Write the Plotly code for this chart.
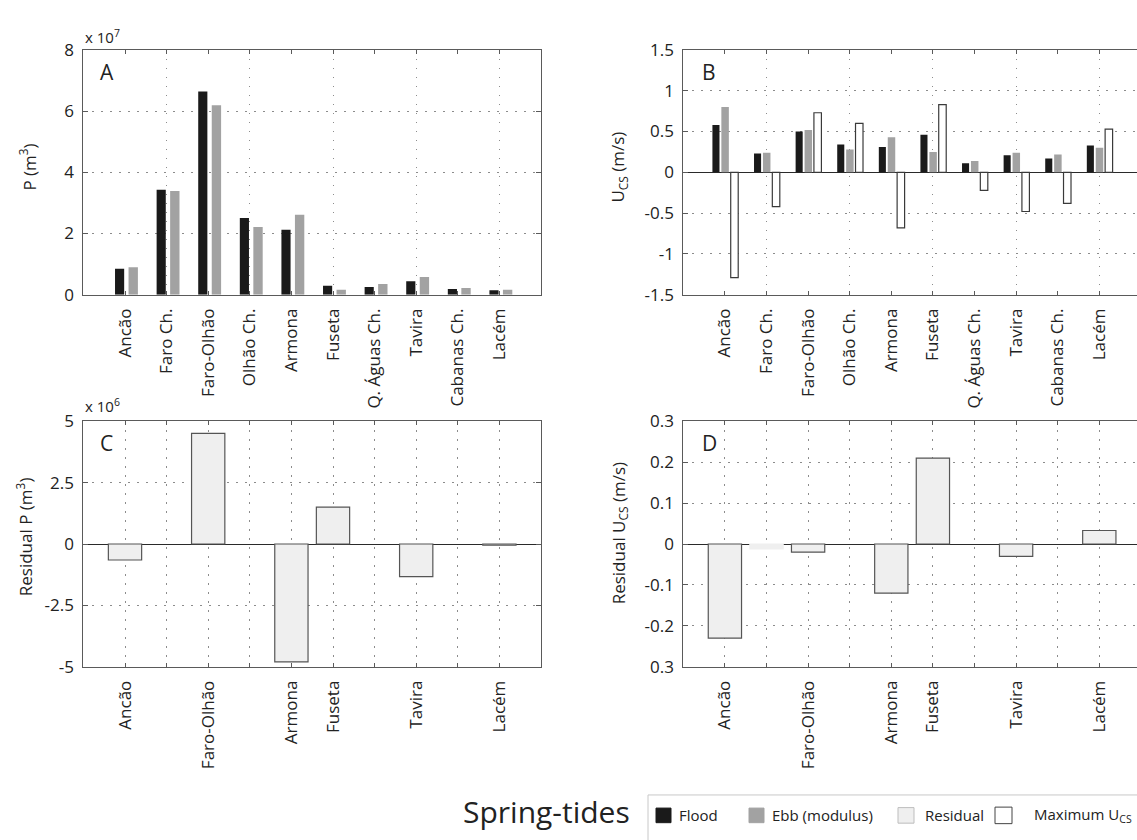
import plotly.graph_objects as go

# ---- data -------------------------------------------------------------
categories = ["Ancão", "Faro Ch.", "Faro-Olhão", "Olhão Ch.", "Armona",
              "Fuseta", "Q. Águas Ch.", "Tavira", "Cabanas Ch.", "Lacém"]
positions = list(range(1, len(categories) + 1))

# tidal prism (m3)
flood_prism = [0.85e7, 3.43e7, 6.64e7, 2.51e7, 2.12e7, 0.29e7, 0.25e7, 0.44e7, 0.19e7, 0.15e7]
ebb_prism = [0.90e7, 3.39e7, 6.19e7, 2.21e7, 2.61e7, 0.16e7, 0.35e7, 0.58e7, 0.22e7, 0.16e7]

# cross-sectional velocity (m/s)
flood_ucs = [0.58, 0.23, 0.50, 0.34, 0.31, 0.46, 0.11, 0.21, 0.17, 0.33]
ebb_ucs = [0.80, 0.24, 0.52, 0.28, 0.43, 0.25, 0.14, 0.24, 0.22, 0.30]
max_ucs = [-1.29, -0.42, 0.73, 0.60, -0.68, 0.83, -0.22, -0.48, -0.38, 0.53]

# residuals
resid_prism = [-0.65e6, None, 4.5e6, None, -4.8e6, 1.5e6, None, -1.33e6, None, -0.05e6]
resid_ucs = [-0.23, -0.012, -0.02, None, -0.12, 0.21, None, -0.03, None, 0.033]
resid_labels = ["Ancão", "Faro-Olhão", "Armona", "Fuseta", "Tavira", "Lacém"]

# axis ticks
prism_ticks = [0, 2e7, 4e7, 6e7, 8e7]
prism_ticktext = ["0", "2", "4", "6", "8"]
ucs_ticks = [-1.5, -1, -0.5, 0, 0.5, 1, 1.5]
ucs_ticktext = ["-1.5", "-1", "-0.5", "0", "0.5", "1", "1.5"]
rprism_ticks = [-5e6, -2.5e6, 0, 2.5e6, 5e6]
rprism_ticktext = ["-5", "-2.5", "0", "2.5", "5"]
rucs_ticks = [-0.3, -0.2, -0.1, 0, 0.1, 0.2, 0.3]
rucs_ticktext = ["0.3", "-0.2", "-0.1", "0", "0.1", "0.2", "0.3"]

# ---- styling ------------------------------------------------------------
W, H = 1137, 840
FONT = "Open Sans"
C_FLOOD = "#1a1a1a"
C_EBB = "#a2a2a2"
C_RESID = "#efefef"
C_EDGE = "#555555"
AXCOL = "#5a5a5a"
GRIDCOL = "#8c8c8c"
GRIDDASH = "1.5px,7.5px"


def px(x):
    return x / W


def py(y):
    return 1 - y / H


left_dom = [px(83.4), px(541)]
right_dom = [px(683.3), 1.0]
top_dom = [py(290.7), py(39)]
bot_dom = [py(673.3), py(420.7)]

fig = go.Figure()

# A: tidal prism
fig.add_trace(go.Bar(x=positions, y=flood_prism, offset=-0.24, width=0.22,
                     marker=dict(color=C_FLOOD, line=dict(width=0)),
                     xaxis="x", yaxis="y", name="Flood"))
fig.add_trace(go.Bar(x=positions, y=ebb_prism, offset=0.085, width=0.225,
                     marker=dict(color=C_EBB, line=dict(width=0)),
                     xaxis="x", yaxis="y", name="Ebb (modulus)"))

# B: velocities
fig.add_trace(go.Bar(x=positions, y=flood_ucs, offset=-0.30, width=0.17,
                     marker=dict(color=C_FLOOD, line=dict(width=0)),
                     xaxis="x2", yaxis="y2", name="Flood"))
fig.add_trace(go.Bar(x=positions, y=ebb_ucs, offset=-0.085, width=0.18,
                     marker=dict(color=C_EBB, line=dict(width=0)),
                     xaxis="x2", yaxis="y2", name="Ebb (modulus)"))
fig.add_trace(go.Bar(x=positions, y=max_ucs, offset=0.14, width=0.18,
                     marker=dict(color="white", line=dict(color="#3a3a3a", width=1.2)),
                     xaxis="x2", yaxis="y2", name="Maximum Ucs"))

# C: residual prism
fig.add_trace(go.Bar(x=positions, y=resid_prism, offset=-0.4, width=0.8,
                     marker=dict(color=C_RESID, line=dict(color=C_EDGE, width=1.2)),
                     xaxis="x3", yaxis="y3", name="Residual"))

# D: residual velocity (the near-zero Faro Ch. bar has no outline)
edge_colors = [C_RESID if (v is not None and abs(v) < 0.015) else C_EDGE for v in resid_ucs]
fig.add_trace(go.Bar(x=positions, y=resid_ucs, offset=-0.4, width=0.8,
                     marker=dict(color=C_RESID, line=dict(color=edge_colors, width=1.2)),
                     xaxis="x4", yaxis="y4", name="Residual"))

tickfont = dict(family=FONT, size=17, color="#222222")
labfont = dict(family=FONT, size=17, color="#222222")


def xaxis(domain, anchor, rng, labels, grid_vals):
    vals = [p for p, c in zip(positions, categories) if c in labels]
    return dict(
        domain=domain, anchor=anchor, range=rng,
        tickmode="array", tickvals=vals, ticktext=labels,
        tickangle=-90, tickfont=labfont,
        ticks="inside", ticklen=4, tickcolor=AXCOL,
        showline=True, linecolor=AXCOL, linewidth=1, mirror="ticks",
        showgrid=False, zeroline=False, ticklabelstandoff=6,
        minor=dict(tickmode="array", tickvals=grid_vals, showgrid=True,
                   gridcolor=GRIDCOL, griddash=GRIDDASH, gridwidth=1,
                   ticks="inside", ticklen=4, tickcolor=AXCOL),
    )


def yaxis(domain, anchor, rng, vals, text, mirror, zero):
    return dict(
        domain=domain, anchor=anchor, range=rng,
        tickmode="array", tickvals=vals, ticktext=text, tickfont=tickfont,
        ticks="inside", ticklen=5, tickcolor=AXCOL,
        showline=True, linecolor=AXCOL, linewidth=1, mirror=mirror,
        showgrid=True, gridcolor=GRIDCOL, griddash=GRIDDASH, gridwidth=1,
        zeroline=zero, zerolinecolor="#2a2a2a", zerolinewidth=1.2,
        ticklabelstandoff=5,
    )


right_range = [0, (W - 683.3) / 41.6]

fig.update_layout(
    xaxis=xaxis(left_dom, "y", [0, 11], categories, [2, 4, 6, 8, 10]),
    yaxis=yaxis(top_dom, "x", [0, 8e7], prism_ticks, prism_ticktext, "ticks", False),
    xaxis2=xaxis(right_dom, "y2", right_range, categories, [2, 4, 6, 8, 10]),
    yaxis2=yaxis(top_dom, "x2", [-1.5, 1.5], ucs_ticks, ucs_ticktext, False, True),
    xaxis3=xaxis(left_dom, "y3", [0, 11], resid_labels, positions),
    yaxis3=yaxis(bot_dom, "x3", [-5e6, 5e6], rprism_ticks, rprism_ticktext, "ticks", True),
    xaxis4=xaxis(right_dom, "y4", right_range, resid_labels, positions),
    yaxis4=yaxis(bot_dom, "x4", [-0.3, 0.3], rucs_ticks, rucs_ticktext, False, True),
    barmode="overlay",
    showlegend=False,
    width=W, height=H,
    margin=dict(l=0, r=0, t=0, b=0),
    paper_bgcolor="white", plot_bgcolor="white",
    font=dict(family=FONT, color="#222222"),
)

ann = []


def text(x, y, s, size, xanchor="left", yanchor="middle", angle=0):
    ann.append(dict(x=px(x), y=py(y), xref="paper", yref="paper", text=s,
                    showarrow=False, xanchor=xanchor, yanchor=yanchor,
                    textangle=angle, font=dict(family=FONT, size=size, color="#222222")))


# panel letters
text(98, 62, "A", 21)
text(700, 62, "B", 21)
text(98, 443, "C", 21)
text(700, 443, "D", 21)

# scale factors
text(83, 25, "x 10<sup>7</sup>", 15)
text(83, 405, "x 10<sup>6</sup>", 15)

# y-axis titles
text(28, 160, "P (m<sup>3</sup>)", 17, xanchor="center", angle=-90)
text(619, 160, "U<sub>CS</sub> (m/s)", 17, xanchor="center", angle=-90)
text(24, 540, "Residual P (m<sup>3</sup>)", 17, xanchor="center", angle=-90)
text(619, 536, "Residual U<sub>CS</sub> (m/s)", 17, xanchor="center", angle=-90)

# key
text(461, 822, "Spring-tides", 30)
key_items = [
    (656, 15, C_FLOOD, C_FLOOD, "Flood", 677),
    (749, 15, C_EBB, C_EBB, "Ebb (modulus)", 770),
    (898, 16, C_RESID, "#bdbdbd", "Residual", 923),
    (995, 17, "white", "#444444", "Maximum U<sub>CS</sub>", 1032),
]
shapes = [dict(type="rect", xref="paper", yref="paper",
               x0=px(648), x1=px(1160), y0=py(860), y1=py(805),
               line=dict(color="#c8c8c8", width=1), fillcolor="rgba(0,0,0,0)")]
for x0, size, fill, edge, label, tx in key_items:
    shapes.append(dict(type="rect", xref="paper", yref="paper",
                       x0=px(x0), x1=px(x0 + size), y0=py(826 + size / 2), y1=py(826 - size / 2),
                       line=dict(color=edge, width=1), fillcolor=fill))
    text(tx, 826, label, 15)

fig.update_layout(annotations=ann, shapes=shapes)

fig.write_html("out.html")
